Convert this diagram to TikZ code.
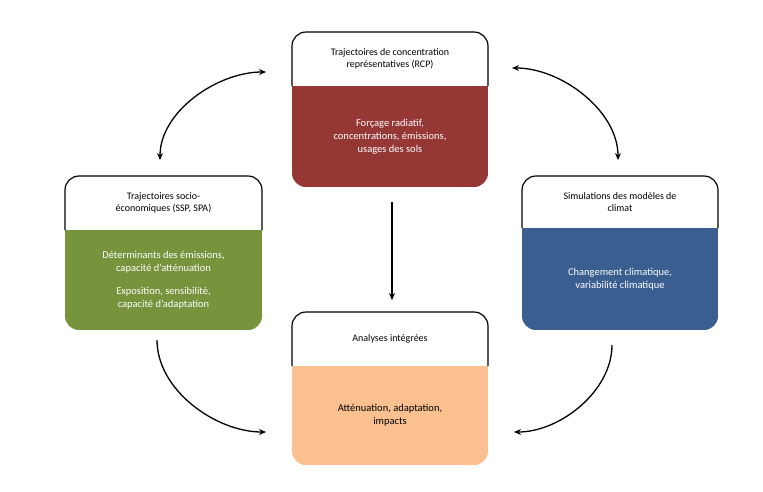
\documentclass[tikz,border=0pt]{standalone}
\usepackage{fontspec}
\setmainfont{Carlito}
\usetikzlibrary{arrows.meta}
\definecolor{rcpred}{HTML}{953735}
\definecolor{sspgreen}{HTML}{77933C}
\definecolor{simblue}{HTML}{395E8F}
\definecolor{iampeach}{HTML}{FAC090}
\tikzset{
  cycle arrow/.style={-{Stealth[length=7pt,width=6pt]}, line width=1.3pt},
  box title/.style={align=center, font=\fontsize{10}{12}\selectfont},
  box body/.style={align=center, font=\fontsize{10.5}{13}\selectfont},
}
% #1 name, #2 x0, #3 ytop, #4 x1, #5 ydiv, #6 ybot, #7 colour, #8 title, #9 body
\newcommand{\climbox}[9]{%
  \begin{scope}
    \clip[rounded corners=14pt] (#2,#3) rectangle (#4,#6);
    \fill[#7] (#2,#5) rectangle (#4,#6);
  \end{scope}
  \draw[line width=1.2pt, rounded corners=14pt] (#2,#5) |- (#4,#3) -- (#4,#5);
  \node[box title] (#1title) at ({(#2+#4)/2},{(#3+#5)/2}) {#8};
  \node[box body] (#1body) at ({(#2+#4)/2},{(#5+#6)/2}) {#9};
  \coordinate (#1) at ({(#2+#4)/2},{(#3+#6)/2});
}
\begin{document}
\begin{tikzpicture}[x=1pt,y=-1pt]
    \useasboundingbox (0,0) rectangle (763,491);

    \climbox{rcp}{292}{32}{488}{86}{187}{rcpred}
      {Trajectoires de concentration\\représentatives (RCP)}
      {\color{white}Forçage radiatif,\\\color{white}concentrations, émissions,\\\color{white}usages des sols}
    \climbox{ssp}{65}{176}{262}{230}{330}{sspgreen}
      {Trajectoires socio-\\économiques (SSP, SPA)}
      {\color{white}Déterminants des émissions,\\\color{white}capacité d’atténuation\\[10pt]\color{white}Exposition, sensibilité,\\\color{white}capacité d’adaptation}
    \climbox{sim}{522}{176}{718}{228}{330}{simblue}
      {Simulations des modèles de\\climat}
      {\color{white}Changement climatique,\\\color{white}variabilité climatique}
    \climbox{iam}{292}{312}{488}{366}{465}{iampeach}
      {Analyses intégrées}
      {Atténuation, adaptation,\\impacts}

    % ends of the connectors
    \coordinate (sspN) at (160,160);
    \coordinate (rcpW) at (266,72);
    \coordinate (rcpE) at (512,68);
    \coordinate (simN) at (618,160);
    \coordinate (rcpS) at (392,202);
    \coordinate (iamN) at (392,300);
    \coordinate (sspS) at (157,340);
    \coordinate (iamW) at (266,432);
    \coordinate (simS) at (612,345);
    \coordinate (iamE) at (514,432);

    \draw[cycle arrow, {Stealth[length=7pt,width=6pt]}-{Stealth[length=7pt,width=6pt]}]
      (sspN) to[out=90, in=180, looseness=0.9] (rcpW);
    \draw[cycle arrow, {Stealth[length=7pt,width=6pt]}-{Stealth[length=7pt,width=6pt]}]
      (rcpE) to[out=0, in=90, looseness=0.9] (simN);
    \draw[cycle arrow] (rcpS) -- (iamN);
    \draw[cycle arrow] (sspS) to[out=-90, in=180, looseness=0.9] (iamW);
    \draw[cycle arrow] (simS) to[out=-90, in=0, looseness=0.9] (iamE);
\end{tikzpicture}
\end{document}
